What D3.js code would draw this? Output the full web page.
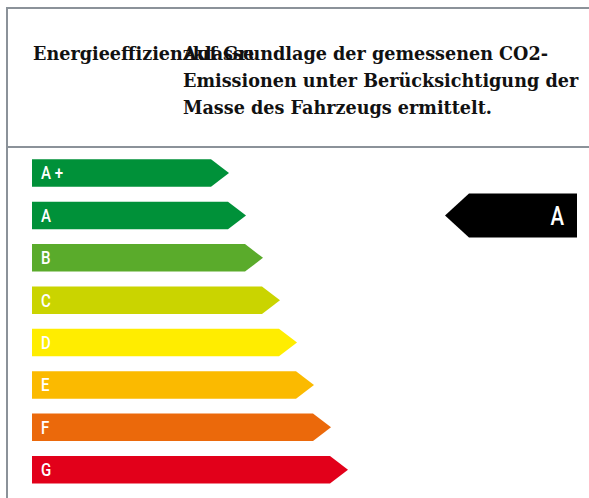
<!DOCTYPE html>
<html>
<head>
<meta charset="utf-8">
<script src="https://cdn.jsdelivr.net/npm/d3@7"></script>
<style>
  body { margin: 0; background: #fff; }
  svg { display: block; }
  .head { font-family: "DejaVu Serif", "Liberation Serif", serif; font-weight: bold; font-size: 17.6px; fill: #111; }
  .cls { font-family: "Roboto", "DejaVu Sans Condensed", sans-serif; font-weight: 500; fill: #fff; }
</style>
</head>
<body>
<svg id="chart" width="589" height="498"></svg>
<script>
  const classes = ['A+', 'A', 'B', 'C', 'D', 'E', 'F', 'G'];
  const classColors = ['#009139', '#009139', '#5aab2b', '#cad400', '#ffed00', '#fbba00', '#eb690b', '#e2001a'];
  const classSteps = [0, 1, 2, 3, 4, 5, 6, 7];
  const currentClass = 'A';
  const titleText = 'Energieeffizienzklasse';
  const noteLines = [
    'Auf Grundlage der gemessenen CO2-',
    'Emissionen unter Berücksichtigung der',
    'Masse des Fahrzeugs ermittelt.'
  ];

  const svg = d3.select('#chart');
  const borderColor = '#8b9299';

  // frame
  svg.append('line').attr('x1', 6).attr('x2', 589).attr('y1', 8).attr('y2', 8)
    .attr('stroke', borderColor).attr('stroke-width', 2);
  svg.append('line').attr('x1', 7).attr('x2', 7).attr('y1', 7).attr('y2', 498)
    .attr('stroke', borderColor).attr('stroke-width', 2);
  svg.append('line').attr('x1', 6).attr('x2', 589).attr('y1', 147).attr('y2', 147)
    .attr('stroke', borderColor).attr('stroke-width', 2);

  // header
  svg.append('text').attr('class', 'head').attr('x', 33).attr('y', 60).text(titleText);
  const note = svg.append('text').attr('class', 'head');
  note.selectAll('tspan').data(noteLines).join('tspan')
    .attr('x', 183)
    .attr('y', (d, i) => 60 + i * 27.2)
    .text(d => d);

  // scales
  const y = d3.scaleBand().domain(classes).range([159.3, 483.5]).paddingInner(0.351);
  const len = d3.scaleLinear().domain([0, 7]).range([179, 298]);
  const x0 = 32, tip = 18;

  const arrow = (x, yTop, w, h, t) => {
    const p = d3.path();
    p.moveTo(x, yTop);
    p.lineTo(x + w, yTop);
    p.lineTo(x + w + t, yTop + h / 2);
    p.lineTo(x + w, yTop + h);
    p.lineTo(x, yTop + h);
    p.closePath();
    return p.toString();
  };

  const bars = svg.append('g').selectAll('g').data(classes).join('g');
  bars.append('path')
    .attr('d', (d, i) => arrow(x0, y(d), len(classSteps[i]), y.bandwidth(), tip))
    .attr('fill', (d, i) => classColors[i]);
  bars.append('text')
    .attr('class', 'cls')
    .attr('transform', d => `translate(41,${y(d) + y.bandwidth() / 2}) scale(0.86,1)`)
    .attr('dy', '0.36em')
    .attr('font-size', 17.5)
    .text(d => d.replace('+', ' +'));

  // current class marker
  const cy = y(currentClass) + y.bandwidth() / 2;
  const mh = 44;
  const mp = d3.path();
  mp.moveTo(577, cy - mh / 2);
  mp.lineTo(469, cy - mh / 2);
  mp.lineTo(445, cy);
  mp.lineTo(469, cy + mh / 2);
  mp.lineTo(577, cy + mh / 2);
  mp.closePath();
  svg.append('path').attr('d', mp.toString()).attr('fill', '#000');
  svg.append('text')
    .attr('class', 'cls')
    .attr('transform', `translate(564,${cy}) scale(0.8,1)`)
    .attr('dy', '0.36em')
    .attr('text-anchor', 'end')
    .attr('font-size', 25.5)
    .text(currentClass);
</script>
</body>
</html>
